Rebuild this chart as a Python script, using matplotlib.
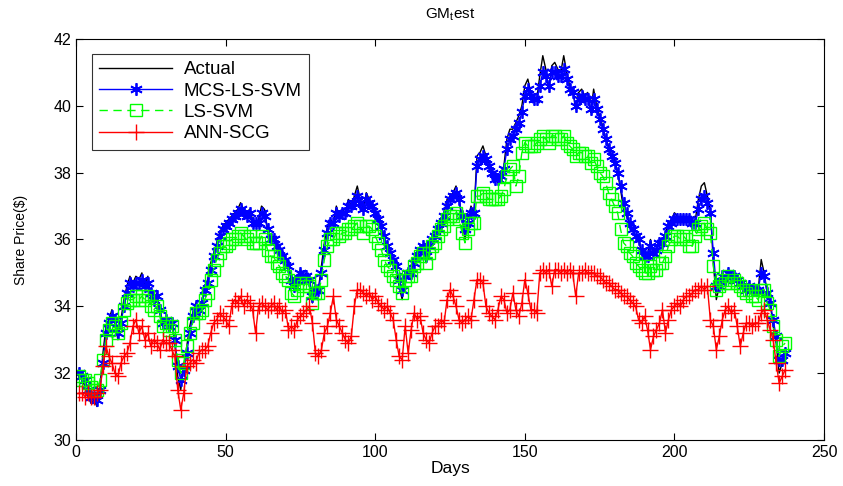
import matplotlib
matplotlib.use("Agg")
import matplotlib.pyplot as plt
import numpy as np

plt.rcParams['font.family'] = ['Liberation Sans', 'DejaVu Sans']
plt.rcParams['mathtext.fontset'] = 'custom'
plt.rcParams['mathtext.rm'] = 'Liberation Sans'

days = list(range(1, 238))

actual = [
    31.9, 31.8, 31.6, 31.3, 31.1, 31.2, 31.0, 31.6, 32.6, 33.4,
    33.6, 33.9, 33.5, 33.0, 33.6, 34.2, 34.6, 34.9, 34.7, 34.9,
    34.8, 35.0, 34.6, 34.9, 34.3, 34.2, 34.4, 33.8, 33.4, 33.6,
    33.3, 33.5, 32.9, 31.9, 31.5, 32.2, 32.8, 33.4, 33.8, 34.1,
    33.9, 34.1, 34.6, 34.8, 35.3, 35.6, 35.9, 36.2, 36.4, 36.5,
    36.6, 36.7, 36.8, 36.9, 37.1, 36.9, 36.8, 36.9, 36.6, 36.5,
    36.6, 37.0, 36.9, 36.3, 36.0, 36.1, 35.9, 35.8, 35.6, 35.4,
    35.3, 34.7, 34.6, 34.9, 35.1, 34.9, 35.0, 34.8, 34.1, 34.6,
    34.5, 35.2, 35.9, 36.4, 36.6, 36.5, 37.0, 36.7, 36.9, 36.8,
    37.2, 37.0, 37.3, 37.6, 37.2, 36.9, 37.4, 37.2, 37.0, 36.8,
    36.6, 36.4, 36.0, 35.7, 35.6, 35.3, 35.1, 34.6, 34.2, 35.0,
    35.1, 35.0, 35.4, 35.6, 35.7, 35.8, 35.3, 35.9, 36.0, 36.1,
    36.3, 36.6, 36.8, 37.2, 37.3, 37.4, 37.6, 37.2, 36.6, 36.0,
    36.6, 37.0, 36.8, 38.5, 38.6, 38.8, 38.5, 38.3, 38.0, 37.8,
    37.7, 38.0, 38.2, 39.0, 39.3, 39.3, 39.5, 39.7, 40.0, 40.6,
    40.8, 40.4, 40.1, 40.2, 40.9, 41.5, 41.1, 40.5, 41.2, 41.3,
    41.1, 41.0, 41.5, 41.0, 40.6, 40.5, 39.9, 40.4, 40.5, 40.3,
    40.4, 39.8, 40.5, 40.0, 39.7, 39.4, 39.0, 38.8, 38.5, 38.4,
    38.0, 37.5, 36.9, 36.7, 36.5, 36.3, 36.1, 36.0, 35.6, 35.4,
    35.5, 36.0, 35.6, 35.7, 36.0, 35.9, 36.2, 36.5, 36.6, 36.8,
    36.7, 36.6, 36.7, 36.6, 36.7, 36.5, 36.6, 37.2, 37.6, 37.7,
    37.3, 36.9, 35.3, 34.2, 34.6, 35.0, 34.8, 35.1, 34.9, 35.0,
    34.8, 34.7, 34.6, 34.5, 34.7, 34.5, 34.6, 34.5, 35.4, 35.0,
    34.4, 34.1, 33.4, 32.9, 32.0, 32.3, 32.6,
]

mcs_ls_svm = [
    32.0, 31.9, 31.8, 31.5, 31.3, 31.3, 31.2, 31.5, 32.3, 33.2,
    33.5, 33.7, 33.6, 33.2, 33.5, 34.0, 34.4, 34.7, 34.6, 34.7,
    34.7, 34.8, 34.6, 34.7, 34.4, 34.2, 34.3, 33.9, 33.5, 33.6,
    33.4, 33.5, 33.0, 32.2, 31.8, 32.1, 32.6, 33.2, 33.7, 34.0,
    33.9, 34.1, 34.5, 34.7, 35.1, 35.5, 35.8, 36.1, 36.3, 36.4,
    36.5, 36.6, 36.7, 36.8, 36.9, 36.8, 36.7, 36.8, 36.5, 36.5,
    36.5, 36.8, 36.7, 36.3, 36.0, 36.0, 35.8, 35.7, 35.5, 35.4,
    35.2, 34.8, 34.6, 34.8, 35.0, 34.9, 34.9, 34.8, 34.3, 34.5,
    34.5, 35.0, 35.7, 36.2, 36.5, 36.5, 36.8, 36.7, 36.8, 36.8,
    37.0, 37.0, 37.1, 37.3, 37.1, 36.9, 37.2, 37.1, 37.0, 36.8,
    36.6, 36.4, 36.1, 35.8, 35.6, 35.4, 35.2, 34.8, 34.5, 34.9,
    35.0, 35.0, 35.3, 35.5, 35.7, 35.8, 35.5, 35.8, 36.0, 36.1,
    36.3, 36.5, 36.7, 37.0, 37.2, 37.3, 37.4, 37.2, 36.7, 36.3,
    36.5, 36.8, 36.8, 38.2, 38.4, 38.5, 38.4, 38.2, 38.0, 37.8,
    37.8, 37.9, 38.1, 38.7, 39.0, 39.1, 39.3, 39.5, 39.8, 40.3,
    40.5, 40.3, 40.2, 40.2, 40.6, 41.0, 40.9, 40.6, 41.0, 41.0,
    40.9, 40.9, 41.1, 40.8, 40.5, 40.4, 40.0, 40.2, 40.3, 40.2,
    40.2, 39.9, 40.2, 39.9, 39.6, 39.3, 39.0, 38.7, 38.5, 38.3,
    38.0, 37.6, 37.1, 36.8, 36.5, 36.3, 36.1, 36.0, 35.7, 35.5,
    35.5, 35.8, 35.6, 35.7, 35.9, 35.9, 36.1, 36.4, 36.5, 36.6,
    36.6, 36.6, 36.6, 36.6, 36.6, 36.5, 36.5, 36.9, 37.2, 37.3,
    37.1, 36.8, 35.6, 34.6, 34.6, 34.9, 34.8, 35.0, 34.9, 34.9,
    34.8, 34.7, 34.6, 34.5, 34.6, 34.5, 34.5, 34.5, 35.0, 34.9,
    34.4, 34.1, 33.6, 33.1, 32.4, 32.4, 32.6,
]

ls_svm = [
    31.9, 31.8, 31.8, 31.7, 31.6, 31.5, 31.5, 31.8, 32.4, 33.0,
    33.3, 33.5, 33.4, 33.2, 33.5, 33.9, 34.1, 34.2, 34.2, 34.3,
    34.2, 34.3, 34.2, 34.3, 34.0, 33.9, 34.0, 33.7, 33.4, 33.5,
    33.3, 33.4, 33.0, 32.4, 32.0, 32.3, 32.8, 33.2, 33.5, 33.8,
    33.8, 33.9, 34.2, 34.4, 34.8, 35.1, 35.4, 35.6, 35.8, 35.8,
    35.9, 36.0, 36.0, 36.1, 36.2, 36.1, 36.0, 36.1, 35.9, 35.9,
    35.9, 36.1, 36.0, 35.7, 35.5, 35.5, 35.3, 35.2, 35.0, 34.9,
    34.8, 34.4, 34.3, 34.5, 34.7, 34.6, 34.7, 34.6, 34.1, 34.4,
    34.4, 34.8, 35.4, 35.8, 36.0, 36.0, 36.2, 36.1, 36.2, 36.2,
    36.3, 36.3, 36.4, 36.5, 36.4, 36.2, 36.4, 36.4, 36.3, 36.1,
    35.9, 35.7, 35.4, 35.2, 35.1, 34.9, 34.8, 34.6, 34.4, 34.8,
    34.9, 34.9, 35.2, 35.3, 35.5, 35.6, 35.3, 35.6, 35.8, 35.9,
    36.1, 36.3, 36.4, 36.6, 36.7, 36.7, 36.8, 36.6, 36.2, 35.9,
    36.3, 36.5, 36.5, 37.3, 37.3, 37.4, 37.3, 37.2, 37.2, 37.2,
    37.2, 37.3, 37.5, 37.9, 38.1, 38.2, 37.6, 37.9, 38.6, 38.9,
    38.8, 38.8, 38.8, 38.9, 39.0, 39.1, 39.0, 38.9, 39.1, 39.1,
    39.0, 39.0, 39.1, 38.9, 38.8, 38.7, 38.5, 38.6, 38.6, 38.5,
    38.5, 38.3, 38.4, 38.2, 38.0, 37.9, 37.7, 37.4, 37.2, 37.0,
    36.8, 36.3, 35.9, 35.8, 35.6, 35.5, 35.3, 35.2, 35.1, 35.0,
    35.0, 35.2, 35.1, 35.1, 35.3, 35.3, 35.5, 35.8, 36.0, 36.1,
    36.1, 36.0, 36.1, 36.0, 35.8, 35.8, 36.1, 36.3, 36.4, 36.5,
    36.3, 36.2, 35.2, 34.5, 34.6, 34.8, 34.7, 34.9, 34.7, 34.8,
    34.7, 34.6, 34.5, 34.4, 34.5, 34.3, 34.3, 34.2, 34.5, 34.5,
    34.1, 33.9, 33.4, 33.0, 32.5, 32.8, 32.9,
]

ann_scg = [
    31.4, 31.4, 31.3, 31.4, 31.3, 31.3, 31.4, 31.5, 32.2, 32.8,
    32.5, 32.3, 32.0, 31.9, 32.3, 32.5, 32.6, 32.9, 33.4, 33.6,
    33.2, 33.4, 33.0, 33.2, 32.8, 33.0, 32.9, 32.7, 33.0, 32.9,
    32.9, 32.7, 32.5, 31.5, 30.9, 31.4, 32.2, 32.3, 32.4, 32.3,
    32.6, 32.7, 32.7, 32.8, 33.2, 33.5, 33.6, 33.8, 33.7, 33.6,
    33.4, 34.0, 34.2, 34.1, 34.3, 34.0, 34.2, 34.1, 33.9, 33.2,
    34.0, 34.1, 34.0, 33.9, 34.0, 34.1, 33.9, 34.0, 33.8, 33.9,
    33.3, 33.4, 33.3, 33.6, 33.7, 33.8, 33.9, 34.0, 33.5, 32.6,
    32.5, 32.7, 33.2, 33.4, 33.8, 34.3, 33.6, 33.4, 33.2, 33.0,
    32.9, 33.1, 34.0, 34.5, 34.5, 34.4, 34.3, 34.4, 34.2, 34.3,
    34.1, 34.0, 33.9, 34.0, 33.8, 33.6, 33.0, 32.5, 32.4, 33.4,
    32.6, 33.3, 33.8, 33.6, 33.7, 33.2, 33.0, 32.9, 33.2, 33.4,
    33.4, 33.6, 33.5, 34.2, 34.5, 34.3, 34.0, 33.6, 33.5, 33.6,
    33.7, 33.6, 34.2, 34.8, 34.8, 34.7, 34.0, 33.8, 33.7, 33.6,
    33.9, 34.3, 34.2, 33.8, 33.9, 34.4, 33.9, 33.7, 34.1, 34.8,
    34.4, 33.9, 33.9, 33.8, 35.0, 35.1, 35.0, 35.1, 34.6, 35.1,
    35.1, 35.0, 35.1, 35.0, 35.1, 35.0, 34.3, 35.0, 35.0, 35.1,
    35.0, 35.0, 35.0, 34.9, 34.9, 34.8, 34.7, 34.7, 34.6, 34.5,
    34.5, 34.4, 34.3, 34.3, 34.2, 34.1, 34.0, 33.6, 33.5, 33.7,
    33.3, 32.7, 33.1, 33.3, 33.5, 33.9, 33.2, 33.6, 33.9, 34.0,
    34.1, 34.0, 34.2, 34.3, 34.3, 34.4, 34.5, 34.5, 34.6, 34.5,
    34.6, 33.6, 33.4, 32.7, 33.1, 33.6, 33.9, 34.0, 33.8, 33.9,
    33.4, 32.8, 33.2, 33.5, 33.5, 33.4, 33.5, 33.5, 33.8, 33.9,
    33.6, 33.3, 33.0, 32.3, 31.7, 31.9, 32.1,
]

labels = ["Actual", "MCS-LS-SVM", "LS-SVM", "ANN-SCG"]
title = r"GM$_\mathregular{t}$est"
xlabel = "Days"
ylabel = "Share Price($)"

fig = plt.figure(figsize=(8.43, 4.86), dpi=100)
ax = fig.add_axes([0.0902, 0.0947, 0.8873, 0.8251])

ax.plot(days, actual, color='k', lw=1.0, label=labels[0])
ax.plot(days, mcs_ls_svm, color='b', lw=1.0, marker=(6, 2, 0), ms=9, mew=1.3,
        label=labels[1])
ax.plot(days, ls_svm, color=(0, 1, 0), lw=1.0, ls=(0, (6, 4)), marker='s', ms=8.5,
        mfc='none', mec=(0, 1, 0), mew=1.0, label=labels[2])
ax.plot(days, ann_scg, color=(1, 0, 0), lw=1.0, marker='+', ms=11, mew=1.0,
        label=labels[3])

ax.set_xlim(0, 250)
ax.set_ylim(30, 42)
ax.set_xticks([0, 50, 100, 150, 200, 250])
ax.set_yticks([30, 32, 34, 36, 38, 40, 42])
ax.tick_params(direction='in', top=True, right=True, labelsize=11.5,
               length=5, width=0.8)
for s in ax.spines.values():
    s.set_linewidth(0.8)

ax.set_title(title, fontsize=11, pad=15)
ax.set_xlabel(xlabel, fontsize=12.5, labelpad=1)
ax.set_ylabel(ylabel, fontsize=10, labelpad=18)

leg = ax.legend(loc='upper left', handlelength=3.9,
                prop={'family': 'Liberation Sans', 'size': 13.5},
                handletextpad=0.6, borderpad=0.4, labelspacing=0.22,
                fancybox=False, bbox_to_anchor=(0.021, 0.963),
                borderaxespad=0.0)
leg.get_frame().set_edgecolor('k')
leg.get_frame().set_linewidth(0.8)

fig.savefig("out.png", dpi=100)
